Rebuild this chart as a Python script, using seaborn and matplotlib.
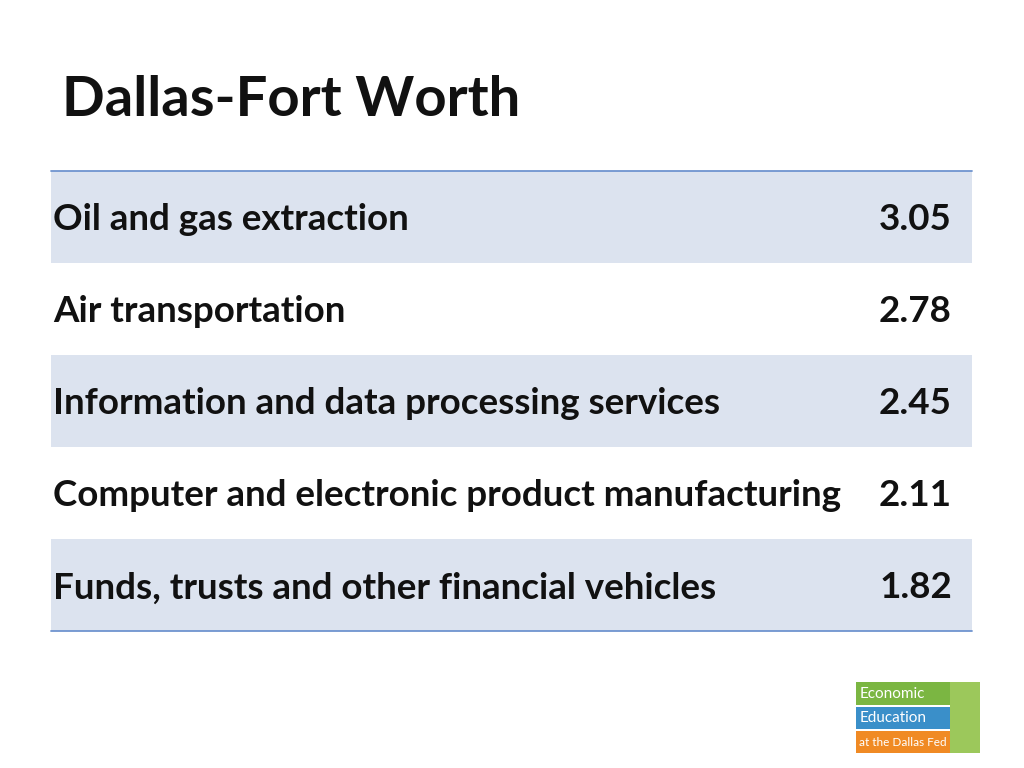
import matplotlib
matplotlib.use("Agg")
import matplotlib.pyplot as plt
import seaborn as sns
from matplotlib.patches import Rectangle

title = "Dallas-Fort Worth"
industries = ["Oil and gas extraction", "Air transportation",
              "Information and data processing services",
              "Computer and electronic product manufacturing",
              "Funds, trusts and other financial vehicles"]
values = [3.05, 2.78, 2.45, 2.11, 1.82]

sns.set_theme(style="white")
fig = plt.figure(figsize=(10.24, 7.68), dpi=100)
ax = fig.add_axes([0, 0, 1, 1])
ax.set_xlim(0, 1024); ax.set_ylim(768, 0); ax.axis("off")
font = "Lato"

ax.text(62, 100, title, fontsize=40.5, fontweight="bold", family=font, va="center", ha="left", color="#111111")

top, h, x0, x1 = 171, 92, 51, 972
for i, (lab, v) in enumerate(zip(industries, values)):
    y = top + i * h
    if i % 2 == 0:
        ax.add_patch(Rectangle((x0, y), x1 - x0, h, color="#dce3ef", lw=0))
    ax.text(53, y + h / 2 + 3, lab, fontsize=26.5, fontweight="bold", family=font, va="center", color="#111111")
    ax.text(952, y + h / 2 + 3, f"{v:.2f}", fontsize=26.5, fontweight="bold", family=font, va="center", ha="right", color="#111111")
ax.plot([x0, x1], [top, top], color="#6f94cf", lw=1.3)
ax.plot([x0, x1], [top + 5 * h, top + 5 * h], color="#6f94cf", lw=1.3)

# logo
ax.add_patch(Rectangle((856, 682), 94, 23, color="#7bb642", lw=0))
ax.text(860, 693.5, "Economic", color="white", fontsize=11, va="center", family=font)
ax.add_patch(Rectangle((856, 707), 94, 22, color="#3a8fc9", lw=0))
ax.text(860, 718, "Education", color="white", fontsize=11, va="center", family=font)
ax.add_patch(Rectangle((856, 731), 94, 22, color="#f08a24", lw=0))
ax.text(859, 742, "at the Dallas Fed", color="white", fontsize=8.5, va="center", family=font)
ax.add_patch(Rectangle((950, 682), 30, 71, color="#9cc85b", lw=0))

fig.savefig("out.png", dpi=100)
